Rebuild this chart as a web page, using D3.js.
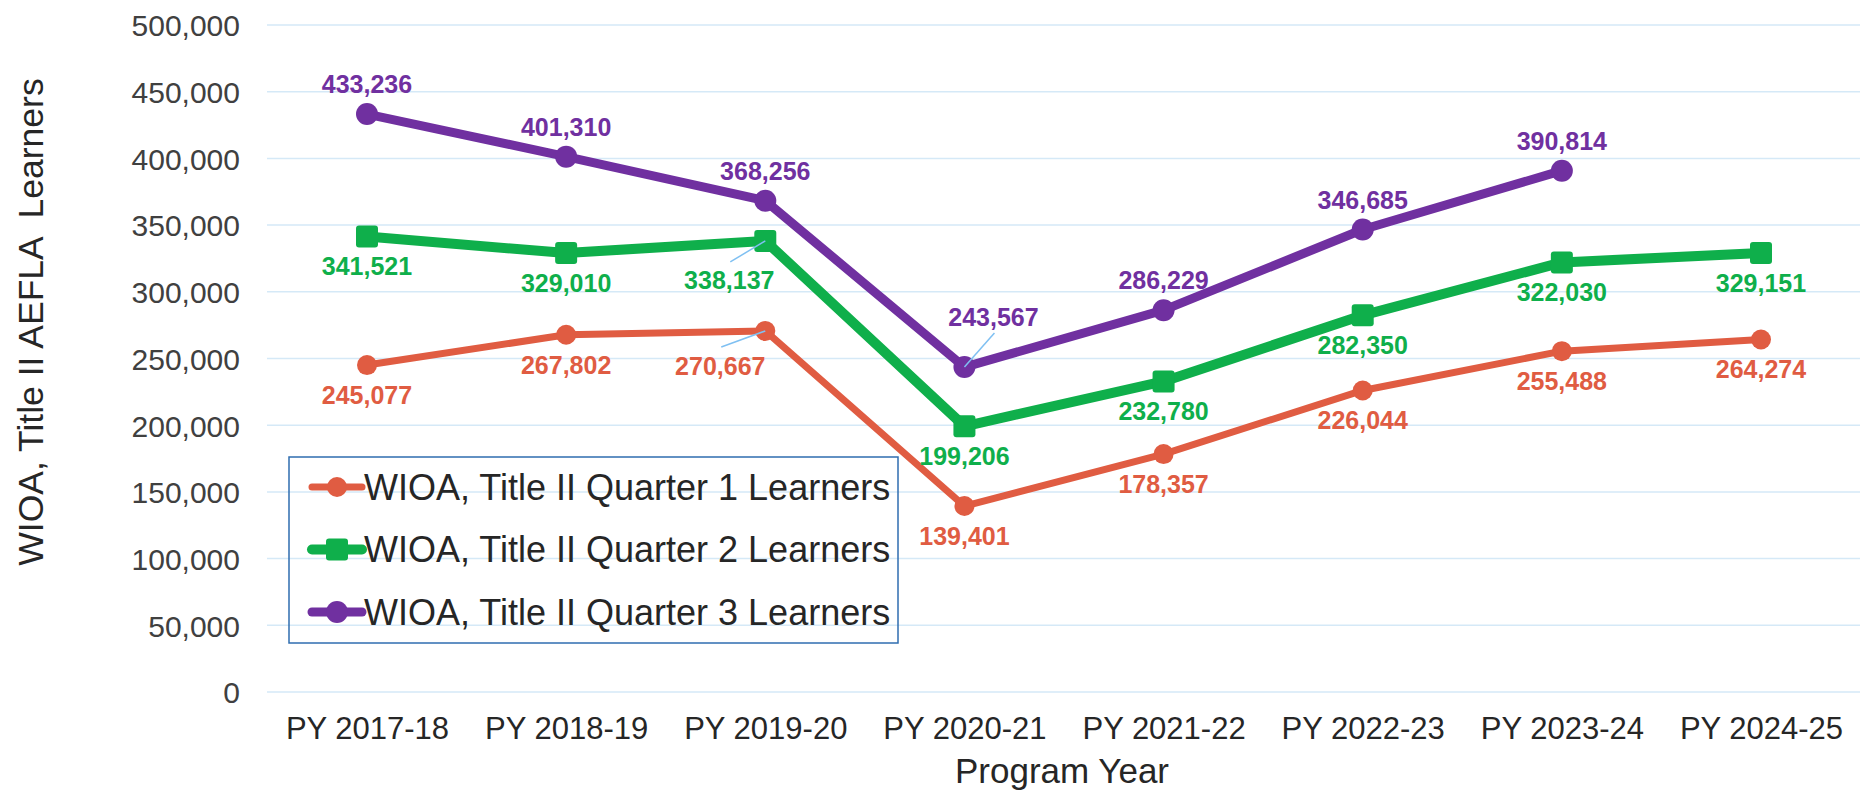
<!DOCTYPE html>
<html>
<head>
<meta charset="utf-8">
<script src="https://cdnjs.cloudflare.com/ajax/libs/d3/7.8.5/d3.min.js"></script>
<style>
  body { margin: 0; background: white; }
  text { font-family: "Liberation Sans", Arial, sans-serif; }
</style>
</head>
<body>
<svg id="chart"></svg>
<script>
// chart data
const years = ["PY 2017-18", "PY 2018-19", "PY 2019-20", "PY 2020-21", "PY 2021-22", "PY 2022-23", "PY 2023-24", "PY 2024-25"];
const q1Learners = [245077, 267802, 270667, 139401, 178357, 226044, 255488, 264274];
const q2Learners = [341521, 329010, 338137, 199206, 232780, 282350, 322030, 329151];
const q3Learners = [433236, 401310, 368256, 243567, 286229, 346685, 390814, null];
const seriesNames = ["WIOA, Title II Quarter 1 Learners", "WIOA, Title II Quarter 2 Learners", "WIOA, Title II Quarter 3 Learners"];
const yTickValues = [0, 50000, 100000, 150000, 200000, 250000, 300000, 350000, 400000, 450000, 500000];

const width = 1864, height = 791;

var svg = d3.select("#chart")
    .attr("width", width)
    .attr("height", height)
    .style("background-color", "white");

var xScale = d3.scalePoint()
    .domain(years)
    .range([367, 1761]);

var yScale = d3.scaleLinear()
    .domain([0, 500000])
    .range([692, 25]);

// series styles
var series = [
    { name: seriesNames[0], values: q1Learners, color: "#E05C42", width: 7, shape: "circle", r: 10, place: 1 },
    { name: seriesNames[1], values: q2Learners, color: "#0FAF4B", width: 10, shape: "square", r: 11, place: 1 },
    { name: seriesNames[2], values: q3Learners, color: "#7030A0", width: 9, shape: "circle", r: 11, place: -1 }
];

// labels that Excel moved off the point (with a leader line)
var nudges = {
    "1-2": { dx: -36, dy: 39, lx: 1, ly: -18 },
    "0-2": { dx: -45, dy: 35, lx: 1, ly: -19 },
    "2-3": { dx: 29, dy: -50, lx: 1, ly: 16 }
};

// gridlines
svg.append("g")
    .selectAll("line")
    .data(yTickValues)
    .join("line")
    .attr("x1", 267)
    .attr("x2", 1860)
    .attr("y1", d => yScale(d))
    .attr("y2", d => yScale(d))
    .attr("stroke", "#D5E9F7")
    .attr("stroke-width", 1.5);

// y axis labels
var yAxis = svg.append("g")
    .attr("transform", "translate(240,0)")
    .call(d3.axisLeft(yScale).tickValues(yTickValues).tickFormat(d3.format(",")).tickSize(0).tickPadding(0));
yAxis.select(".domain").remove();
yAxis.selectAll("text")
    .attr("dy", "0.36em")
    .style("font-family", "'Liberation Sans', Arial, sans-serif")
    .style("font-size", "30px")
    .attr("fill", "#404040");

// x axis labels
var xAxis = svg.append("g")
    .attr("transform", "translate(0,739)")
    .call(d3.axisBottom(xScale).tickSize(0).tickPadding(0));
xAxis.select(".domain").remove();
xAxis.selectAll("text")
    .attr("dy", 0)
    .style("font-family", "'Liberation Sans', Arial, sans-serif")
    .style("font-size", "31px")
    .attr("fill", "#262626");

// axis titles
svg.append("text")
    .attr("x", 1062)
    .attr("y", 783)
    .attr("text-anchor", "middle")
    .style("font-size", "35px")
    .attr("fill", "#262626")
    .text("Program Year");

svg.append("text")
    .attr("transform", "translate(43,322) rotate(-90)")
    .attr("text-anchor", "middle")
    .style("font-size", "35.5px")
    .attr("fill", "#262626")
    .attr("xml:space", "preserve")
    .text("WIOA, Title II AEFLA  Learners");

var line = d3.line()
    .defined(d => d != null)
    .x((d, i) => xScale(years[i]))
    .y(d => yScale(d));

function drawMarker(g, s, x, y, r) {
    if (s.shape == "square") {
        g.append("rect")
            .attr("x", x - r).attr("y", y - r)
            .attr("width", 2 * r).attr("height", 2 * r)
            .attr("rx", 3)
            .attr("fill", s.color);
    } else {
        g.append("circle")
            .attr("cx", x).attr("cy", y).attr("r", r)
            .attr("fill", s.color);
    }
}

series.forEach(function (s, si) {
    var g = svg.append("g");
    g.append("path")
        .datum(s.values)
        .attr("fill", "none")
        .attr("stroke", s.color)
        .attr("stroke-width", s.width)
        .attr("stroke-linejoin", "round")
        .attr("d", line);

    s.values.forEach(function (v, i) {
        if (v == null) return;
        drawMarker(g, s, xScale(years[i]), yScale(v), s.r);
    });
});

// data labels on top
series.forEach(function (s, si) {
    var g = svg.append("g");
    s.values.forEach(function (v, i) {
        if (v == null) return;
        var px = xScale(years[i]), py = yScale(v);
        var n = nudges[si + "-" + i];
        var lx = px, ly = py + s.place * 30;
        if (n) {
            lx = px + n.dx;
            ly = py + n.dy;
            g.append("line")
                .attr("x1", lx + n.lx).attr("y1", ly + n.ly)
                .attr("x2", px).attr("y2", py)
                .attr("stroke", "#7FC0F2")
                .attr("stroke-width", 1.5);
        }
        g.append("text")
            .attr("x", lx)
            .attr("y", ly)
            .attr("dy", "0.36em")
            .attr("text-anchor", "middle")
            .style("font-size", "25px")
            .style("font-weight", "bold")
            .attr("fill", s.color)
            .text(d3.format(",")(v));
    });
});

// legend
var legend = svg.append("g");
legend.append("rect")
    .attr("x", 289).attr("y", 457)
    .attr("width", 609).attr("height", 186)
    .attr("fill", "none")
    .attr("stroke", "#2F6DB0")
    .attr("stroke-width", 1.5);

series.forEach(function (s, si) {
    var y = 487 + si * 62.5;
    legend.append("line")
        .attr("x1", 312).attr("x2", 362)
        .attr("y1", y).attr("y2", y)
        .attr("stroke", s.color)
        .attr("stroke-width", s.width)
        .attr("stroke-linecap", "round");
    drawMarker(legend, s, 337, y, s.r);
    legend.append("text")
        .attr("x", 364)
        .attr("y", y)
        .attr("dy", "0.36em")
        .style("font-size", "36px")
        .attr("fill", "#262626")
        .text(s.name);
});
</script>
</body>
</html>
